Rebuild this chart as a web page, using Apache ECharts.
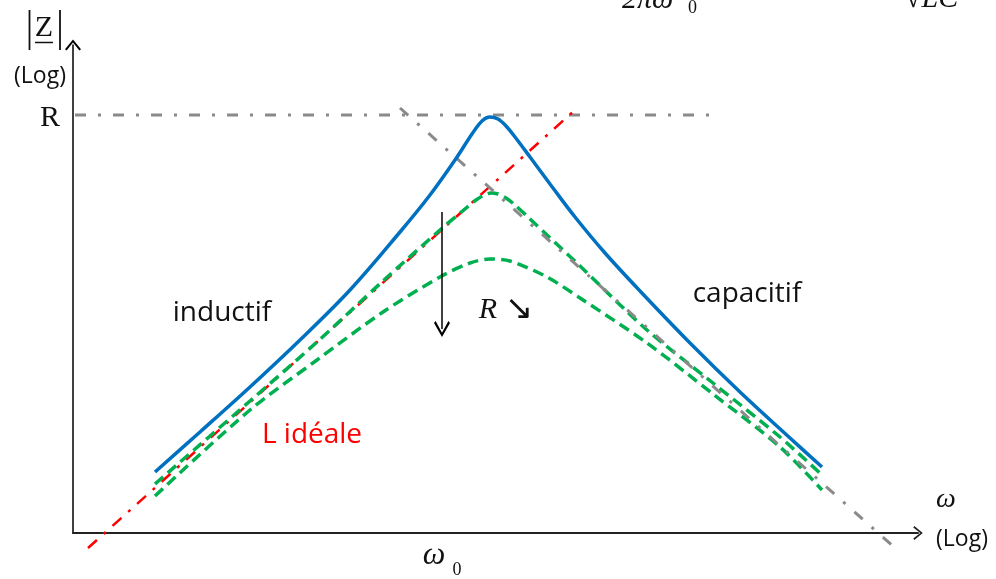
<!DOCTYPE html>
<html>
<head>
<meta charset="utf-8">
<script src="https://cdn.jsdelivr.net/npm/echarts@6/dist/echarts.min.js"></script>
<style>html,body{margin:0;padding:0;background:#fff}#c{width:996px;height:579px}</style>
</head>
<body>
<div id="c"></div>
<script>
// Schematic |Z| (log) vs ω (log), arbitrary units: x = log ω, y = log |Z|
const impedanceHighR = [[82,61],[127,101],[177,146],[227,193],[277,243],[327,301],[357,338],[382,373],[399,399],[409,412],[417,416],[425,414],[433,407],[442,396],[457,376],[477,349],[502,316],[532,280],[567,242],[617,190],[667,141],[717,95],[749,66]];
const impedanceMidR = [[82,49],[177,132],[244,191],[310,252],[367,303],[392,324],[403,333],[411,338],[418,340],[425,339],[433,335],[442,328],[457,314],[474,298],[507,267],[574,203],[640,150],[707,96],[749,58]];
const impedanceLowR = [[82,37],[177,123],[244,173],[310,221],[367,256],[397,270],[417,274],[437,272],[474,256],[507,235],[574,190],[640,139],[707,86],[749,43]];
const inductorAsymptote = [[15,-15],[502,423]];
const capacitorAsymptote = [[327,425],[822,-15]];
const resistanceLevel = [[2,418],[642,418]];
const rDecreaseArrow = [[369,321],[369,204]];

const chevron = 'path://M0,12 L10,0 L20,12 L18,13.6 L10,3.6 L2,13.6 Z';
const chart = echarts.init(document.getElementById('c'), null, {renderer:'canvas'});

function txt(x, y, text, font, fill, align, va) {
  return {type:'text', x:x, y:y, silent:true, style:{text:text, font:font, fill:fill||'#111',
    align:align||'center', verticalAlign:va||'middle', textAlign:align||'center', textVerticalAlign:va||'middle'}};
}
const sans = '"Open Sans", sans-serif';
const serif = '"Liberation Serif", serif';

chart.setOption({
  animation:false,
  backgroundColor:'#fff',
  grid:{left:73, right:78, top:45, bottom:46},
  xAxis:{type:'value', min:0, max:845, axisTick:{show:false}, axisLabel:{show:false}, splitLine:{show:false},
    axisLine:{show:true, onZero:true, symbol:['none', chevron], symbolSize:[14,14], lineStyle:{color:'#222', width:2}}},
  yAxis:{type:'value', min:0, max:488, axisTick:{show:false}, axisLabel:{show:false}, splitLine:{show:false},
    axisLine:{show:true, onZero:true, symbol:['none', chevron], symbolSize:[16,15], lineStyle:{color:'#000', width:1.5}}},
  series:[
    {type:'line', data:resistanceLevel, symbol:'none', clip:false, z:2,
      lineStyle:{color:'#8a8a8a', width:3, type:[11,12,3,12]}},
    {type:'line', data:inductorAsymptote, symbol:'none', clip:false, z:2,
      lineStyle:{color:'#ff0000', width:2.5, type:[12,9,3,9]}},
    {type:'line', data:impedanceLowR, symbol:'none', smooth:0.3, z:3,
      lineStyle:{color:'#00b050', width:3.5, type:[11,6]}},
    {type:'line', data:impedanceMidR, symbol:'none', smooth:0.3, z:3,
      lineStyle:{color:'#00b050', width:3.5, type:[11,6]}},
    {type:'line', data:capacitorAsymptote, symbol:'none', clip:false, z:4,
      lineStyle:{color:'#8a8a8a', width:3, type:[11,12,3,12]}},
    {type:'line', data:impedanceHighR, symbol:'none', smooth:0.35, z:5,
      lineStyle:{color:'#0070c0', width:3.5}},
    {type:'lines', coordinateSystem:'cartesian2d', z:6, symbol:['none', chevron], symbolSize:16,
      lineStyle:{color:'#000', width:1.5, opacity:1}, data:[{coords:rDecreaseArrow}]}
  ],
  graphic:[
    {type:'line', shape:{x1:29.5, y1:10, x2:29.5, y2:50}, style:{stroke:'#111', lineWidth:1.8}},
    {type:'line', shape:{x1:60, y1:10, x2:60, y2:50}, style:{stroke:'#111', lineWidth:1.8}},
    {type:'line', shape:{x1:35, y1:42.5, x2:53, y2:42.5}, style:{stroke:'#111', lineWidth:1.5}},
    txt(44, 28, 'Z', '30px ' + serif),
    txt(40, 76, '(Log)', '23px ' + sans),
    txt(50, 118, 'R', '30px ' + serif),
    txt(434, 556, 'ω', 'italic 32px ' + serif),
    txt(457, 570, '0', '18px ' + serif),
    txt(946, 500, 'ω', 'italic 28px ' + serif),
    txt(962, 539, '(Log)', '23px ' + sans),
    txt(222, 313, 'inductif', '28px ' + sans),
    txt(747, 294, 'capacitif', '28px ' + sans),
    txt(312, 435, 'L idéale', '28px ' + sans, '#ff0000'),
    txt(488, 310, 'R', 'italic 30px ' + serif),
    txt(519, 310, '↘', '34px "DejaVu Sans", sans-serif'),
    txt(622, 15, '2πω', 'italic 30px ' + serif, '#111', 'left', 'bottom'),
    txt(688, 17, '0', '18px ' + serif, '#111', 'left', 'bottom'),
    txt(905, 14, '√LC', 'italic 30px ' + serif, '#111', 'left', 'bottom')
  ]
});
</script>
</body>
</html>
